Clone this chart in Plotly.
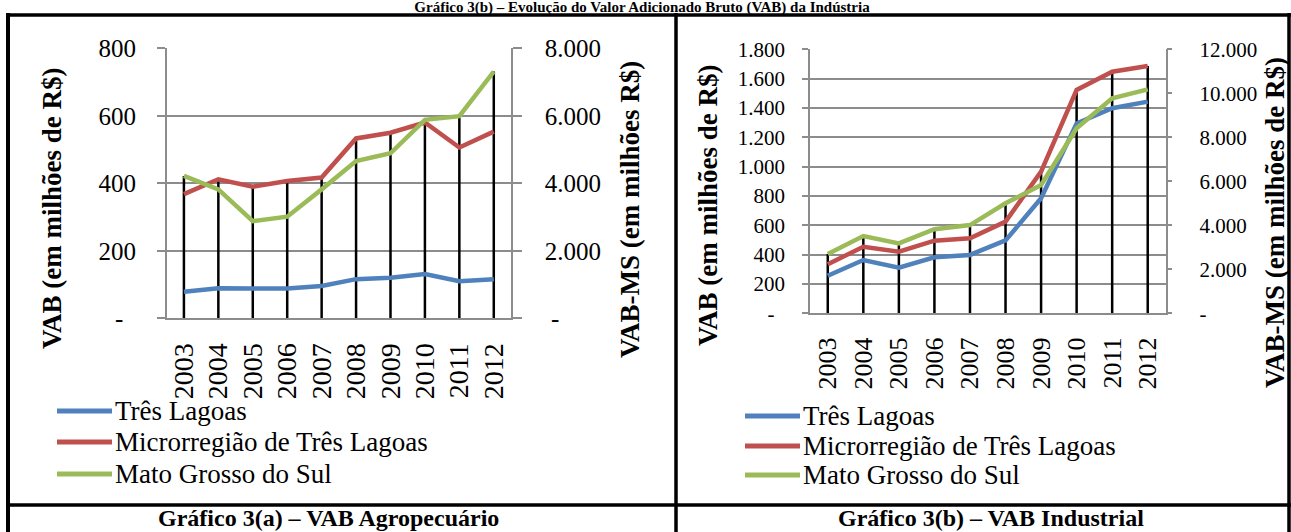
import plotly.graph_objects as go

# ---------------- data ----------------
years = ["2003", "2004", "2005", "2006", "2007", "2008", "2009", "2010", "2011", "2012"]
series_names = ["Três Lagoas", "Microrregião de Três Lagoas", "Mato Grosso do Sul"]
series_colors = ["#4F81BD", "#C0504D", "#9BBB59"]

# Gráfico 3(a) – VAB Agropecuário (milhões R$)
agro_tl = [79, 89, 88, 88, 96, 116, 120, 131, 110, 116]
agro_micro = [368, 412, 390, 407, 417, 533, 550, 580, 506, 553]
agro_ms = [4220, 3820, 2880, 3010, 3820, 4660, 4890, 5880, 5990, 7310]

# Gráfico 3(b) – VAB Industrial (milhões R$)
ind_tl = [256, 363, 311, 382, 398, 497, 784, 1295, 1398, 1443]
ind_micro = [334, 454, 420, 495, 511, 625, 966, 1523, 1647, 1686]
ind_ms = [2700, 3510, 3180, 3820, 4010, 5000, 5830, 8410, 9770, 10180]

agro_left_ticks = [0, 200, 400, 600, 800]
agro_right_ticks = [0, 2000, 4000, 6000, 8000]
ind_left_ticks = [0, 200, 400, 600, 800, 1000, 1200, 1400, 1600, 1800]
ind_right_ticks = [0, 2000, 4000, 6000, 8000, 10000, 12000]

top_title = "Gráfico 3(b) – Evolução do Valor Adicionado Bruto (VAB) da Indústria"
caption_a = "Gráfico 3(a) – VAB Agropecuário"
caption_b = "Gráfico 3(b) – VAB Industrial"
left_title = "VAB (em milhões de R$)"
right_title_a = "VAB-MS (em milhões R$)"
right_title_b = "VAB-MS (em milhões de R$)"

# ---------------- layout helpers ----------------
W, H = 1291, 532
FONT = "Liberation Serif"
GREY = "#8C8C8C"


def px(xp):
    return xp / W


def py(yp):
    return 1 - yp / H


def fmt(v, zero_label):
    return zero_label if v == 0 else f"{v:,}".replace(",", ".")


fig = go.Figure()


def add_panel(xa, ya, ya2, tl, micro, ms, left_max, right_max):
    ratio = left_max / right_max
    # drop lines from the axis to the highest point of each category
    dx, dy = [], []
    for i, yr in enumerate(years):
        top = max(tl[i], micro[i], ms[i] * ratio)
        dx += [yr, yr, None]
        dy += [0, top, None]
    fig.add_trace(go.Scatter(x=dx, y=dy, mode="lines", xaxis=xa, yaxis=ya,
                             line=dict(color="black", width=2.5),
                             showlegend=False, hoverinfo="skip"))
    for vals, name, col, yax in zip([tl, micro, ms], series_names, series_colors, [ya, ya, ya2]):
        fig.add_trace(go.Scatter(x=years, y=vals, mode="lines", name=name,
                                 xaxis=xa, yaxis=yax, showlegend=False,
                                 line=dict(color=col, width=4.5)))


add_panel("x", "y", "y2", agro_tl, agro_micro, agro_ms, 800, 8000)
add_panel("x2", "y3", "y4", ind_tl, ind_micro, ind_ms, 1800, 12000)

axis_common = dict(showline=True, linecolor=GREY, linewidth=1.5, zeroline=False,
                   tickcolor=GREY, tickwidth=1.5, automargin=False)

# panel (a)
ax_dom = [px(166.7), px(511)]
ay_dom = [py(318.3), py(48.3)]
# panel (b)
bx_dom = [px(810), px(1165.5)]
by_dom = [py(313.3), py(49.3)]

fig.update_layout(
    width=W, height=H, autosize=False,
    margin=dict(l=0, r=0, t=0, b=0, pad=0, autoexpand=False),
    paper_bgcolor="white", plot_bgcolor="white",
    font=dict(family=FONT, color="black"),
    showlegend=False,
    title=dict(text=f"<b>{top_title}</b>", x=px(642), xanchor="center",
               xref="paper", yref="container", y=py(6.5), yanchor="middle",
               automargin=False,
               font=dict(family=FONT, size=15, color="black")),
    xaxis=dict(domain=ax_dom, anchor="y", type="category", range=[-0.5, 9.5],
               showgrid=False, tickangle=-90, ticks="", ticklabelstandoff=12,
               tickfont=dict(size=28, family=FONT), **axis_common),
    yaxis=dict(domain=ay_dom, anchor="x", range=[0, 800],
               tickvals=agro_left_ticks,
               ticktext=[fmt(v, "-\u00a0\u00a0") for v in agro_left_ticks],
               showgrid=True, gridcolor=GREY, gridwidth=1.5,
               ticks="outside", ticklen=8, ticklabelstandoff=16,
               tickfont=dict(size=25, family=FONT), **axis_common),
    yaxis2=dict(overlaying="y", anchor="x", side="right", range=[0, 8000],
                tickvals=agro_right_ticks,
                ticktext=[fmt(v, "\u00a0-") for v in agro_right_ticks],
                showgrid=False, ticks="outside", ticklen=9, ticklabelstandoff=18,
                tickfont=dict(size=25, family=FONT), **axis_common),
    xaxis2=dict(domain=bx_dom, anchor="y3", type="category", range=[-0.5, 9.5],
                showgrid=False, tickangle=-90, ticks="", ticklabelstandoff=12,
                tickfont=dict(size=26, family=FONT), **axis_common),
    yaxis3=dict(domain=by_dom, anchor="x2", range=[0, 1800],
                tickvals=ind_left_ticks,
                ticktext=[fmt(v, "-\u00a0\u00a0") for v in ind_left_ticks],
                showgrid=True, gridcolor=GREY, gridwidth=1.5,
                ticks="outside", ticklen=6, ticklabelstandoff=13,
                tickfont=dict(size=21, family=FONT), **axis_common),
    yaxis4=dict(overlaying="y3", anchor="x2", side="right", range=[0, 12000],
                tickvals=ind_right_ticks,
                ticktext=[fmt(v, "-") for v in ind_right_ticks],
                showgrid=False, ticks="outside", ticklen=5, ticklabelstandoff=23,
                tickfont=dict(size=21, family=FONT), **axis_common),
)

# ---------------- table borders ----------------
def hline(y, x0, x1, w):
    fig.add_shape(type="line", xref="paper", yref="paper", x0=px(x0), x1=px(x1),
                  y0=py(y), y1=py(y), line=dict(color="black", width=w))


def vline(x, y0, y1, w):
    fig.add_shape(type="line", xref="paper", yref="paper", x0=px(x), x1=px(x),
                  y0=py(y0), y1=py(y1), line=dict(color="black", width=w))


hline(15, 6, 1291, 3.5)
hline(505, 6, 1291, 3.5)
vline(8, 13, 532, 4)
vline(676, 13, 532, 3.5)
vline(1289, 13, 532, 3.5)

# ---------------- text annotations ----------------
def ann(text, x, y, size, bold=False, angle=0, xanchor="center", yanchor="middle"):
    fig.add_annotation(text=f"<b>{text}</b>" if bold else text,
                       xref="paper", yref="paper", x=px(x), y=py(y),
                       xanchor=xanchor, yanchor=yanchor, showarrow=False,
                       textangle=angle, font=dict(family=FONT, size=size, color="black"))


ann(caption_a, 328, 518, 24, bold=True)
ann(caption_b, 991, 518, 24, bold=True)

ann(left_title, 52, 209, 27, bold=True, angle=-90)
ann(right_title_a, 630, 210, 27, bold=True, angle=-90)
ann(left_title, 708, 206, 27, bold=True, angle=-90)
ann(right_title_b, 1275, 223, 27, bold=True, angle=-90)

# ---------------- legends (one per panel) ----------------
def legend(x_line0, x_line1, rows):
    for name, col, yrow in zip(series_names, series_colors, rows):
        fig.add_shape(type="line", xref="paper", yref="paper",
                      x0=px(x_line0), x1=px(x_line1), y0=py(yrow), y1=py(yrow),
                      line=dict(color=col, width=5))
        ann(name, x_line1 + 1, yrow, 27, xanchor="left")


legend(57, 112, [411, 442, 474])
legend(745, 800, [416, 446, 475])

fig.write_html("out.html", config={"displayModeBar": False},
               post_script="document.body.style.margin='0';document.body.style.overflow='hidden';")
